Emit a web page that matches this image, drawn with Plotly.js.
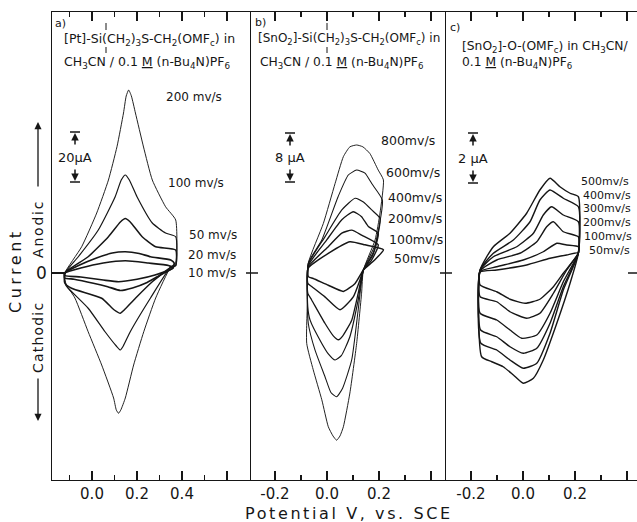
<!DOCTYPE html>
<html>
<head>
<meta charset="utf-8">
<script src="https://cdn.plot.ly/plotly-3.0.1.min.js"></script>
<style>
html,body{margin:0;padding:0;background:#fff;}
#chart{width:637px;height:522px;}
</style>
</head>
<body>
<div id="chart"></div>
<script>
// ===== DATA (potential in V vs. SCE, current in µA) =====
// Panel a: [Pt]-Si(CH2)3S-CH2(OMFc) in CH3CN
const ratesA = ['10 mv/s', '20 mv/s', '50 mv/s', '100 mv/s', '200 mv/s'];
const aV10 = [-0.121, -0.05, 0.05, 0.148, 0.25, 0.34, 0.36, 0.28, 0.2, 0.118, 0.05, -0.05, -0.121, -0.121];
const aI10 = [0, 2, 4, 4.9, 4.0, 3.0, 2, -0.8, -2.5, -3.5, -2.8, -1.6, -1, 0];
const aV20 = [-0.121, -0.06, 0.02, 0.09, 0.148, 0.21, 0.26, 0.35, 0.365, 0.36, 0.30, 0.245, 0.18, 0.126, 0.07, 0.006, -0.08, -0.121, -0.121];
const aI20 = [0, 3, 6, 8, 8.5, 7.8, 6.5, 5.2, 4, 2, -1, -3.8, -6.0, -7, -5.5, -4.1, -2.5, -2, 0];
const aV50 = [-0.121, -0.017, 0.073, 0.126, 0.148, 0.170, 0.223, 0.283, 0.372, 0.372, 0.350, 0.268, 0.193, 0.143, 0.126, 0.099, 0.043, -0.091, -0.121, -0.121];
const aI50 = [0, 6.5, 14.5, 20.4, 21.8, 20.4, 14.5, 10.5, 9.2, 3, 2.2, -3.5, -10.1, -14.8, -16.1, -14.8, -10.1, -6.1, -4, 0];
const aV100 = [-0.121, -0.061, 0.028, 0.103, 0.130, 0.148, 0.166, 0.200, 0.268, 0.327, 0.372, 0.372, 0.350, 0.260, 0.170, 0.139, 0.126, 0.108, 0.058, -0.017, -0.106, -0.117, -0.121, -0.121];
const aI100 = [0, 6.5, 17.2, 30.5, 37.2, 39.2, 37.2, 30.5, 20, 16, 14.5, 3, 2.4, -10, -23.5, -29.2, -30.8, -29.2, -23.5, -14.1, -6.1, -4.8, -2.8, 0];
const aV200 = [-0.121, -0.046, 0.021, 0.073, 0.111, 0.140, 0.152, 0.163, 0.175, 0.193, 0.229, 0.268, 0.327, 0.372, 0.372, 0.350, 0.283, 0.230, 0.185, 0.148, 0.128, 0.118, 0.108, 0.096, 0.043, -0.017, -0.076, -0.113, -0.121, -0.121];
const aI200 = [0, 10.5, 24, 37.2, 50.5, 64, 70.8, 73.2, 70.8, 64, 50.4, 37.2, 26.5, 21.2, 4, 2.5, -10, -23.5, -36.8, -50, -54.8, -56.1, -54.8, -50, -36.8, -23.5, -10, -4.8, -2.8, 0];

// Panel b: [SnO2]-Si(CH2)3S-CH2(OMFc) in CH3CN
const ratesB = ['50mv/s', '100mv/s', '200mv/s', '400mv/s', '600mv/s', '800mv/s'];
const bV50 = [-0.072, 0.005, 0.088, 0.146, 0.217, 0.18, 0.140, 0.108, 0.063, 0.005, -0.053, -0.072, -0.072];
const bI50 = [0.8, 3.2, 5.1, 4.6, 3.8, 2.0, 0.5, -1.7, -3.0, -2.0, -0.9, -0.6, 0.8];
const bV100 = [-0.072, 0.005, 0.057, 0.095, 0.133, 0.197, 0.17, 0.140, 0.127, 0.101, 0.05, -0.008, -0.059, -0.074, -0.072];
const bI100 = [1.0, 4.3, 6.5, 7.0, 6.2, 4.6, 2.0, 0.5, -1.1, -3.9, -6.0, -3.9, -2.2, -1.7, 1.0];
const bV200 = [-0.072, -0.001, 0.057, 0.101, 0.133, 0.159, 0.197, 0.175, 0.140, 0.12, 0.095, 0.060, 0.044, 0.025, -0.008, -0.059, -0.074, -0.072];
const bI200 = [1.2, 5.4, 8.7, 10.0, 9.2, 7.6, 6.5, 2.8, 0.5, -3.3, -7.7, -10.3, -10.9, -10.3, -8.2, -4.4, -3.3, 1.2];
const bV400 = [-0.072, -0.008, 0.057, 0.108, 0.140, 0.172, 0.204, 0.18, 0.140, 0.12, 0.088, 0.055, 0.031, 0.005, -0.020, -0.065, -0.074, -0.072];
const bI400 = [1.4, 5.9, 10.3, 12.2, 11.6, 10.3, 8.9, 3.5, 0.5, -4.4, -10.4, -13.5, -14.2, -13.2, -11.5, -7.7, -5.5, 1.4];
const bV600 = [-0.072, -0.020, 0.043, 0.082, 0.114, 0.146, 0.172, 0.213, 0.185, 0.140, 0.12, 0.095, 0.06, 0.037, 0.015, -0.008, -0.046, -0.072, -0.072];
const bI600 = [1.6, 5.4, 12.5, 16.0, 16.8, 16.3, 14.6, 11.9, 4.6, 0.5, -6.0, -14.2, -18.8, -20.2, -19.5, -16.9, -12.6, -8.2, 1.6];
const bV800 = [-0.072, -0.014, 0.031, 0.063, 0.088, 0.114, 0.138, 0.165, 0.197, 0.217, 0.204, 0.185, 0.140, 0.133, 0.114, 0.088, 0.063, 0.050, 0.037, 0.023, 0.005, -0.020, -0.053, -0.078, -0.075, -0.072];
const bI800 = [1.6, 8.1, 14.6, 19.0, 20.6, 20.9, 20.6, 19.5, 16.8, 15.2, 9.8, 5.4, 0.5, -3.3, -11.5, -19.6, -25.1, -26.6, -27.3, -26.6, -25.1, -20.7, -15.8, -11.5, -4.4, 1.6];

// Panel c: [SnO2]-O-(OMFc) in CH3CN
const ratesC = ['50mv/s', '100mv/s', '200mv/s', '300mv/s', '400mv/s', '500mv/s'];
const cV50 = [-0.165, -0.101, 0.014, 0.104, 0.168, 0.213, 0.155, 0.117, 0.065, 0.008, -0.05, -0.101, -0.165, -0.165];
const cI50 = [0.04, 0.12, 0.32, 0.59, 0.72, 0.8, -0.01, -0.55, -1.05, -1.21, -1.05, -0.75, -0.48, 0.04];
const cV100 = [-0.165, -0.101, 0.001, 0.078, 0.130, 0.168, 0.213, 0.213, 0.168, 0.117, 0.065, 0.014, -0.05, -0.101, -0.165, -0.165];
const cI100 = [0.06, 0.25, 0.52, 0.85, 1.19, 1.12, 1.05, 0.8, 0.12, -0.81, -1.61, -1.81, -1.55, -1.15, -0.95, 0.06];
const cV200 = [-0.165, -0.101, -0.012, 0.053, 0.091, 0.117, 0.155, 0.213, 0.213, 0.155, 0.104, 0.053, -0.005, -0.05, -0.101, -0.165, -0.165];
const cI200 = [0.08, 0.52, 0.79, 1.25, 1.85, 2.05, 1.65, 1.45, 0.8, -0.35, -1.61, -2.48, -2.61, -2.28, -1.88, -1.61, 0.08];
const cV300 = [-0.165, -0.114, -0.024, 0.040, 0.078, 0.110, 0.155, 0.213, 0.213, 0.155, 0.104, 0.053, 0.001, -0.05, -0.101, -0.163, -0.165];
const cI300 = [0.1, 0.65, 1.05, 1.59, 2.32, 2.65, 2.32, 2.05, 0.8, -0.55, -2.01, -3.01, -3.21, -2.95, -2.55, -2.28, 0.1];
const cV400 = [-0.165, -0.114, -0.037, 0.027, 0.065, 0.104, 0.155, 0.213, 0.213, 0.155, 0.104, 0.053, 0.001, -0.05, -0.101, -0.162, -0.165];
const cI400 = [0.12, 0.79, 1.32, 2.05, 2.92, 3.32, 2.99, 2.65, 0.8, -0.68, -2.41, -3.61, -3.81, -3.48, -3.08, -2.81, 0.12];
const cV500 = [-0.165, -0.114, -0.050, 0.014, 0.065, 0.104, 0.142, 0.181, 0.213, 0.213, 0.181, 0.130, 0.078, 0.040, 0.001, -0.037, -0.076, -0.12, -0.159, -0.165];
const cI500 = [0.12, 1.05, 1.59, 2.39, 3.32, 3.79, 3.45, 3.19, 3.05, 0.8, -0.41, -2.01, -3.48, -4.21, -4.41, -4.08, -3.75, -3.55, -3.35, 0.12];

// Current scale bars (µA) and tick labels
const scaleUA = [20, 8, 2];
const scaleText = ['20µA', '8 µA', '2 µA'];
const tickValsA = [0, 0.2, 0.4, 0.6];
const tickTextA = ['0.0', '0.2', '0.4', ''];
const tickValsBC = [-0.2, 0, 0.2, 0.4];
const tickTextBC = ['-0.2', '0.0', '0.2', ''];

// ===== BUILD =====
const FONT = 'DejaVu Sans';
const INK = '#161616';
const W = 637, H = 522, ML = 52, MR = 0, MT = 12, MB = 42;
const PW = W - ML - MR, PH = H - MT - MB;
const px = x => (x - ML) / PW;
const py = y => (H - MB - y) / PH;

const traces = [];
function addLoop(V, I, ax, w) {
  traces.push({
    type: 'scatter', mode: 'lines', x: V, y: I,
    xaxis: 'x' + (ax === 1 ? '' : ax), yaxis: 'y' + (ax === 1 ? '' : ax),
    line: {color: INK, width: w, shape: 'spline', smoothing: 0.5},
    hoverinfo: 'skip', showlegend: false
  });
}
addLoop(aV10, aI10, 1, 1.7); addLoop(aV20, aI20, 1, 1.7); addLoop(aV50, aI50, 1, 1.5);
addLoop(aV100, aI100, 1, 1.2); addLoop(aV200, aI200, 1, 0.95);
addLoop(bV50, bI50, 2, 1.5); addLoop(bV100, bI100, 2, 1.4); addLoop(bV200, bI200, 2, 1.3);
addLoop(bV400, bI400, 2, 1.2); addLoop(bV600, bI600, 2, 1.05); addLoop(bV800, bI800, 2, 0.95);
addLoop(cV50, cI50, 3, 1.4); addLoop(cV100, cI100, 3, 1.4); addLoop(cV200, cI200, 3, 1.4);
addLoop(cV300, cI300, 3, 1.4); addLoop(cV400, cI400, 3, 1.4); addLoop(cV500, cI500, 3, 1.4);

// pixel geometry of the three panels
const dA = [0, px(251)], dB = [px(251), px(446)], dC = [px(446), 1];
const zeroY = 273;
function xr(zeroPx, pxPerV, left, right) { return [(left - zeroPx) / pxPerV, (right - zeroPx) / pxPerV]; }
function yr(pxPerUA) { return [-(H - MB - zeroY) / pxPerUA, (zeroY - MT) / pxPerUA]; }
const pxPerUA = [2.5, 6.125, 25];

function xAxis(domain, range, tv, tt, minorVals, anchor) {
  return {
    domain, range, anchor, showgrid: false, zeroline: false,
    showline: true, linecolor: INK, linewidth: 1.3, mirror: 'ticks',
    ticks: 'inside', ticklen: 9, tickwidth: 1.2, tickcolor: INK,
    tickmode: 'array', tickvals: tv, ticktext: tt,
    tickfont: {family: FONT, size: 15, color: INK},
    minor: {tickmode: 'array', tickvals: minorVals, ticks: 'inside', ticklen: 5, tickwidth: 1.1, tickcolor: INK, showgrid: false},
    fixedrange: true
  };
}
function yAxis(range, anchor) {
  return {
    domain: [0, 1], range, anchor, showgrid: false, zeroline: false,
    showline: true, linecolor: INK, linewidth: 1.3, mirror: false,
    ticks: '', showticklabels: false, fixedrange: true
  };
}

const annotations = [];
function txt(text, x, y, size, extra) {
  annotations.push(Object.assign({
    text, xref: 'paper', yref: 'paper', x: px(x), y: py(y),
    xanchor: 'left', yanchor: 'middle', showarrow: false, borderpad: 0,
    font: {family: FONT, size, color: INK}
  }, extra || {}));
}

// panel headers
txt('a)', 54, 23, 11);
txt('[Pt]-Si(CH<sub>2</sub>)<sub>3</sub>S-CH<sub>2</sub>(OMF<sub>c</sub>) in', 63, 39, 12.5);
txt('CH<sub>3</sub>CN / 0.1 <u>M</u> (n-Bu<sub>4</sub>N)PF<sub>6</sub>', 63, 63, 12.5);
txt('b)', 254, 22, 11);
txt('[SnO<sub>2</sub>]-Si(CH<sub>2</sub>)<sub>3</sub>S-CH<sub>2</sub>(OMF<sub>c</sub>) in', 257, 39, 12);
txt('CH<sub>3</sub>CN / 0.1 <u>M</u> (n-Bu<sub>4</sub>N)PF<sub>6</sub>', 259, 63, 12.3);
txt('c)', 449, 27, 11);
txt('[SnO<sub>2</sub>]-O-(OMF<sub>c</sub>) in CH<sub>3</sub>CN/', 461, 47, 12.3);
txt('0.1 <u>M</u> (n-Bu<sub>4</sub>N)PF<sub>6</sub>', 461, 63, 12.3);

// rate labels
const labPosA = [[187, 273], [187, 255], [188, 235], [167, 183], [165, 97]];
ratesA.forEach((t, i) => txt(t, labPosA[i][0], labPosA[i][1], 12));
const labPosB = [[393, 258], [388, 239], [387, 218], [387, 197], [385, 172], [380, 140]];
ratesB.forEach((t, i) => txt(t, labPosB[i][0], labPosB[i][1], 12.5));
const labPosC = [[588, 250], [583, 237], [582, 223], [582, 209], [582, 195], [580, 181]];
ratesC.forEach((t, i) => txt(t, labPosC[i][0], labPosC[i][1], 11));

// axis captions
txt('0', 41, 273, 17, {xanchor: 'center'});
txt('<span style="letter-spacing:2.6px">Potential V, vs. SCE</span>', 349, 513, 16, {xanchor: 'center'});
txt('<span style="letter-spacing:3.5px">Current</span>', 15, 271, 16, {xanchor: 'center', textangle: -90});
txt('<span style="letter-spacing:1.8px">Anodic</span>', 38, 229, 14, {xanchor: 'center', textangle: -90});
txt('<span style="letter-spacing:1.2px">Cathodic</span>', 38, 338, 14, {xanchor: 'center', textangle: -90});
// direction arrows
annotations.push({xref: 'paper', yref: 'paper', x: px(38), y: py(122), ax: 0, ay: 66, text: '', showarrow: true,
  arrowhead: 2, arrowsize: 1.1, arrowwidth: 1.3, arrowcolor: INK, standoff: 0});
annotations.push({xref: 'paper', yref: 'paper', x: px(38), y: py(421), ax: 0, ay: -44, text: '', showarrow: true,
  arrowhead: 2, arrowsize: 1.1, arrowwidth: 1.3, arrowcolor: INK, standoff: 0});

const shapes = [];
// Si bond bars (above and below "Si")
[[106, 23, 30], [106, 47, 53], [327, 23, 30], [327, 47, 53]].forEach(b => {
  shapes.push({type: 'line', xref: 'paper', yref: 'paper', x0: px(b[0]), x1: px(b[0]), y0: py(b[1]), y1: py(b[2]), line: {color: INK, width: 1}});
});

// scale bars: drawn in each panel's own data units
const barPx = [[75, 132], [290, 133], [473, 133]];
const ranges = [];
ranges.push(xr(92, 225, 52, 251));
ranges.push(xr(327, 260, 251, 446));
ranges.push(xr(523, 260, 446, 637));
[0, 1, 2].forEach(k => {
  const ax = k === 0 ? '' : String(k + 1);
  const zeroPx = [92, 327, 523][k], ppv = [225, 260, 260][k];
  const v = (barPx[k][0] - zeroPx) / ppv;
  const top = (zeroY - barPx[k][1]) / pxPerUA[k];
  const bot = top - scaleUA[k];
  const hw = 5 / ppv;
  shapes.push({type: 'line', xref: 'x' + ax, yref: 'y' + ax, x0: v - hw, x1: v + hw, y0: top, y1: top, line: {color: INK, width: 1.5}});
  shapes.push({type: 'line', xref: 'x' + ax, yref: 'y' + ax, x0: v - hw, x1: v + hw, y0: bot, y1: bot, line: {color: INK, width: 1.5}});
  annotations.push({xref: 'x' + ax, yref: 'y' + ax, x: v, y: top, ax: 0, ay: 14, text: '', showarrow: true,
    arrowhead: 2, arrowsize: 1, arrowwidth: 1.5, arrowcolor: INK, standoff: 1});
  annotations.push({xref: 'x' + ax, yref: 'y' + ax, x: v, y: bot, ax: 0, ay: -14, text: '', showarrow: true,
    arrowhead: 2, arrowsize: 1, arrowwidth: 1.5, arrowcolor: INK, standoff: 1});
  annotations.push({xref: 'x' + ax, yref: 'y' + ax, x: v, y: (top + bot) / 2, text: scaleText[k], showarrow: false,
    xanchor: 'center', yanchor: 'middle', borderpad: 0, font: {family: FONT, size: 13, color: INK}});
});

// zero markers crossing the panel borders
shapes.push({type: 'line', xref: 'paper', yref: 'y', x0: px(52), x1: px(66), y0: 0, y1: 0, line: {color: INK, width: 2}});
[[246, 258], [440, 452], [628, 637]].forEach(p => {
  shapes.push({type: 'line', xref: 'paper', yref: 'y', x0: px(p[0]), x1: px(p[1]), y0: 0, y1: 0, line: {color: INK, width: 1.5}});
});

const layout = {
  width: W, height: H,
  margin: {l: ML, r: MR, t: MT, b: MB, pad: 0},
  paper_bgcolor: '#ffffff', plot_bgcolor: '#ffffff',
  showlegend: false,
  font: {family: FONT, color: INK},
  xaxis: xAxis(dA, ranges[0], tickValsA, tickTextA, [-0.1, 0.1, 0.3, 0.5], 'y'),
  xaxis2: xAxis(dB, ranges[1], tickValsBC, tickTextBC, [-0.1, 0.1, 0.3], 'y2'),
  xaxis3: xAxis(dC, ranges[2], tickValsBC, tickTextBC, [-0.1, 0.1, 0.3], 'y3'),
  yaxis: yAxis(yr(pxPerUA[0]), 'x'),
  yaxis2: yAxis(yr(pxPerUA[1]), 'x2'),
  yaxis3: yAxis(yr(pxPerUA[2]), 'x3'),
  shapes, annotations
};

Plotly.newPlot('chart', traces, layout, {displayModeBar: false, staticPlot: true});
</script>
</body>
</html>
